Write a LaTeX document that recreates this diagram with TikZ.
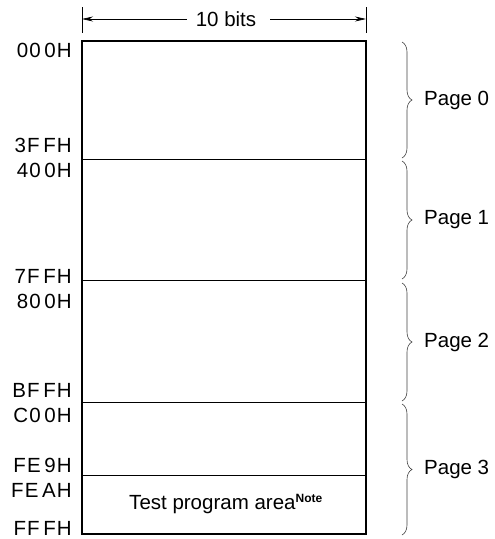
\documentclass[tikz,border=0pt]{standalone}
\usepackage{fontspec}
\setmainfont{Liberation Sans}
\usetikzlibrary{decorations.pathreplacing,arrows.meta}
\newcommand\addr[4]{#1\kern1.2pt#2\kern3.5pt#3\kern1.2pt#4}
\begin{document}
\begin{tikzpicture}[x=1pt,y=-1pt,
  lbl/.style={font=\fontsize{20.5}{22}\selectfont, inner sep=0pt},
  addrlbl/.style={lbl, anchor=base east},
  pagelbl/.style={lbl, anchor=west},
  divider/.style={line width=0.9pt},
  bracestyle/.style={decorate, decoration={brace, amplitude=10pt}, line width=0.6pt, draw=black!75},
  tick/.style={line width=0.8pt}]
\useasboundingbox (0,0) rectangle (495,539);
% box corners
\coordinate (tl) at (82,41);
\coordinate (br) at (366,534);
\coordinate (tr) at (366,41);
% dividers
\foreach \n/\y in {d1/159, d2/280, d3/402, d4/475}{
  \coordinate (\n L) at (82,\y);
  \coordinate (\n R) at (366,\y);
  \draw[divider] (\n L) -- (\n R);
}
\draw[line width=2.2pt] (tl) rectangle (br);
% top dimension
\coordinate (t1a) at (82,7);  \coordinate (t1b) at (82,33);
\coordinate (t2a) at (366,7); \coordinate (t2b) at (366,33);
\draw[tick] (t1a) -- (t1b);
\draw[tick] (t2a) -- (t2b);
\node[lbl] (bits) at (226,19) {10 bits};
\coordinate (al) at (82,19);
\coordinate (ar) at (366,19);
\draw[line width=0.7pt, -{Stealth[length=11pt,width=5pt]}] ([xshift=-9pt]bits.west) -- (al);
\draw[line width=0.7pt, -{Stealth[length=11pt,width=5pt]}] ([xshift=14pt]bits.east) -- (ar);
% address labels
\node[addrlbl] (a1) at (72,57) {\addr{0}{0}{0}{H}};
\node[addrlbl] (a2) at (72,152) {\addr{3}{F}{F}{H}};
\node[addrlbl] (a3) at (72,177) {\addr{4}{0}{0}{H}};
\node[addrlbl] (a4) at (72,283) {\addr{7}{F}{F}{H}};
\node[addrlbl] (a5) at (72,308) {\addr{8}{0}{0}{H}};
\node[addrlbl] (a6) at (72,397) {\addr{B}{F}{F}{H}};
\node[addrlbl] (a7) at (72,422) {\addr{C}{0}{0}{H}};
\node[addrlbl] (a8) at (72,472) {\addr{F}{E}{9}{H}};
\node[addrlbl] (a9) at (72,497) {\addr{F}{E}{A}{H}};
\node[addrlbl] (a10) at (72,535) {\addr{F}{F}{F}{H}};
% test area
\node[lbl] (test) at (226,504) {Test program area\textsuperscript{\bfseries\fontsize{12}{13}\selectfont Note}};
% braces
\foreach \i/\ya/\yb/\ym in {0/42/158/100, 1/161/279/220, 2/283/401/342, 3/404/535/469}{
  \coordinate (b\i a) at (402,\ya);
  \coordinate (b\i b) at (402,\yb);
  \draw[bracestyle] (b\i a) -- (b\i b);
  \node[pagelbl] (p\i) at (424,\ym) {Page \i};
}
\end{tikzpicture}
\end{document}
